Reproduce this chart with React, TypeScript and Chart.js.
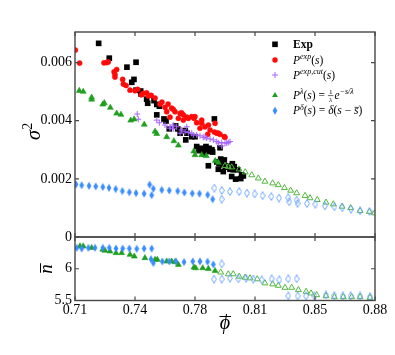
import React, { useEffect, useRef } from 'react';
import { Chart, registerables } from 'chart.js';
Chart.register(...registerables);

type P = [number, number];

// ---- axis ticks ----
const xTicks = [0.705, 0.74, 0.775, 0.81, 0.845, 0.88];
const xTickLabels = ['0.71', '0.74', '0.78', '0.81', '0.85', '0.88'];
const sigmaTicks = [0, 0.002, 0.004, 0.006];
const sigmaTickLabels = ['0', '0.002', '0.004', '0.006'];
const nTicks = [5.5, 6];
const nTickLabels = ['5.5', '6'];
const X_MIN = 0.705, X_MAX = 0.88;
const SIG_MIN = 0, SIG_MAX = 0.00705;
const N_MIN = 5.5, N_MAX = 6.5;

// ---- top panel: sigma^2 vs phi ----
const expPoints: P[] = [
  [0.7188, 0.00666], [0.7250, 0.00615], [0.7353, 0.00584], [0.7406, 0.00601], [0.7394, 0.00542], [0.7381, 0.00532],
  [0.7406, 0.00505], [0.7433, 0.00502], [0.7435, 0.00492], [0.7468, 0.00474], [0.7511, 0.00469], [0.7527, 0.00456],
  [0.7542, 0.00450], [0.7474, 0.00460], [0.7527, 0.00420], [0.7569, 0.00406], [0.7581, 0.00399], [0.7600, 0.00372],
  [0.7637, 0.00382], [0.7649, 0.00372], [0.7663, 0.00357], [0.7693, 0.00366], [0.7703, 0.00357], [0.7696, 0.00334],
  [0.7731, 0.00345], [0.7750, 0.00345], [0.7760, 0.00311], [0.7773, 0.00297], [0.7785, 0.00305], [0.7798, 0.00297],
  [0.7814, 0.00311], [0.7833, 0.00305], [0.7849, 0.00300], [0.7804, 0.00285], [0.7822, 0.00294], [0.7853, 0.00292],
  [0.7863, 0.00406], [0.7896, 0.00307], [0.7828, 0.00245], [0.7877, 0.00258], [0.7900, 0.00268], [0.7921, 0.00265],
  [0.7912, 0.00248], [0.7927, 0.00240], [0.7890, 0.00252], [0.7886, 0.00233], [0.7915, 0.00225], [0.7941, 0.00245],
  [0.7954, 0.00233], [0.7968, 0.00252], [0.7979, 0.00242], [0.7999, 0.00231], [0.7973, 0.00231], [0.7964, 0.00208],
  [0.7987, 0.00199], [0.8017, 0.00201], [0.8022, 0.00214], [0.8032, 0.00210],
];
const pExpPoints: P[] = [
  [0.7052, 0.00643], [0.7077, 0.00598], [0.7219, 0.00599], [0.7235, 0.00600], [0.7244, 0.00602], [0.7278, 0.00568],
  [0.7293, 0.00576], [0.7283, 0.00559], [0.7283, 0.00550], [0.7328, 0.00542], [0.7332, 0.00526], [0.7348, 0.00521],
  [0.7371, 0.00505], [0.7400, 0.00503], [0.7416, 0.00508], [0.7437, 0.00489], [0.7448, 0.00494], [0.7468, 0.00496],
  [0.7478, 0.00485], [0.7495, 0.00487], [0.7517, 0.00478], [0.7546, 0.00457], [0.7557, 0.00464], [0.7575, 0.00446],
  [0.7585, 0.00431], [0.7593, 0.00457], [0.7604, 0.00412], [0.7614, 0.00443], [0.7623, 0.00439], [0.7633, 0.00431],
  [0.7653, 0.00408], [0.7663, 0.00425], [0.7672, 0.00427], [0.7682, 0.00420], [0.7682, 0.00402], [0.7702, 0.00412],
  [0.7711, 0.00408], [0.7731, 0.00414], [0.7744, 0.00408], [0.7750, 0.00414], [0.7760, 0.00393], [0.7779, 0.00374],
  [0.7789, 0.00391], [0.7789, 0.00402], [0.7808, 0.00379], [0.7824, 0.00353], [0.7828, 0.00385], [0.7838, 0.00368],
  [0.7863, 0.00361], [0.7867, 0.00391], [0.7877, 0.00357], [0.7886, 0.00357], [0.7896, 0.00353], [0.7921, 0.00345],
  [0.7925, 0.00343],
];
const pExpCutPoints: P[] = [
  [0.7413, 0.00423], [0.7419, 0.00405], [0.7527, 0.00402], [0.7542, 0.00393], [0.7575, 0.00385], [0.7604, 0.00379],
  [0.7604, 0.00374], [0.7623, 0.00385], [0.7623, 0.00372], [0.7643, 0.00379], [0.7663, 0.00357], [0.7672, 0.00368],
  [0.7692, 0.00362], [0.7702, 0.00379], [0.7711, 0.00359], [0.7731, 0.00357], [0.7740, 0.00351], [0.7760, 0.00351],
  [0.7779, 0.00348], [0.7798, 0.00343], [0.7808, 0.00343], [0.7818, 0.00340], [0.7838, 0.00337], [0.7857, 0.00334],
  [0.7877, 0.00328], [0.7886, 0.00323], [0.7906, 0.00313], [0.7906, 0.00325], [0.7925, 0.00323], [0.7935, 0.00323],
  [0.7944, 0.00325], [0.7954, 0.00328],
];
const pLambdaFilled: P[] = [
  [0.7075, 0.00503], [0.7098, 0.00500], [0.7147, 0.00480], [0.7147, 0.00473], [0.7212, 0.00456], [0.7221, 0.00461],
  [0.7256, 0.00445], [0.7293, 0.00425], [0.7318, 0.00421], [0.7375, 0.00401], [0.7395, 0.00405], [0.7454, 0.00387],
  [0.7517, 0.00363], [0.7527, 0.00355], [0.7585, 0.00344], [0.7627, 0.00330], [0.7653, 0.00315], [0.7743, 0.00295],
  [0.7750, 0.00282], [0.7789, 0.00282], [0.7816, 0.00279], [0.7868, 0.00262], [0.7886, 0.00256],
];
const pLambdaHollow: P[] = [
  [0.7925, 0.00245], [0.7944, 0.00242], [0.7964, 0.00240], [0.8007, 0.00233], [0.8043, 0.00223], [0.8081, 0.00213],
  [0.8119, 0.00202], [0.8158, 0.00191], [0.8203, 0.00185], [0.8236, 0.00179], [0.8272, 0.00169], [0.8308, 0.00160],
  [0.8343, 0.00151], [0.8392, 0.00142], [0.8421, 0.00134], [0.8463, 0.00128], [0.8514, 0.00119], [0.8557, 0.00113],
  [0.8608, 0.00105], [0.8658, 0.00100], [0.8713, 0.00090], [0.8767, 0.00087], [0.8797, 0.00082],
];
const pDeltaFilled: P[] = [
  [0.7056, 0.00181], [0.7089, 0.00178], [0.7132, 0.00176], [0.7171, 0.00174], [0.7212, 0.00172], [0.7248, 0.00169],
  [0.7287, 0.00165], [0.7326, 0.00158], [0.7367, 0.00154], [0.7406, 0.00151], [0.7453, 0.00149], [0.7485, 0.00180],
  [0.7507, 0.00166], [0.7497, 0.00144], [0.7556, 0.00162], [0.7600, 0.00160], [0.7649, 0.00158], [0.7688, 0.00153],
  [0.7734, 0.00150], [0.7776, 0.00149], [0.7824, 0.00145], [0.7853, 0.00130],
];
const pDeltaHollow: P[] = [
  [0.7863, 0.00168], [0.7906, 0.00160], [0.7906, 0.00130], [0.7954, 0.00156], [0.8008, 0.00156], [0.8053, 0.00151],
  [0.8098, 0.00148], [0.8144, 0.00142], [0.8195, 0.00139], [0.8240, 0.00134], [0.8294, 0.00135], [0.8300, 0.00121],
  [0.8343, 0.00127], [0.8348, 0.00115], [0.8403, 0.00115], [0.8452, 0.00113], [0.8508, 0.00107], [0.8563, 0.00104],
  [0.8609, 0.00101], [0.8660, 0.00096], [0.8713, 0.00090], [0.8768, 0.00088],
];

// ---- bottom panel: n vs phi ----
const nDeltaFilled: P[] = [
  [0.7060, 6.329], [0.7089, 6.318], [0.7128, 6.329], [0.7167, 6.329], [0.7212, 6.329], [0.7250, 6.329],
  [0.7289, 6.318], [0.7328, 6.318], [0.7367, 6.318], [0.7410, 6.313], [0.7453, 6.318], [0.7497, 6.318],
  [0.7493, 6.151], [0.7507, 6.091], [0.7559, 6.116], [0.7600, 6.116], [0.7639, 6.116], [0.7686, 6.106],
  [0.7737, 6.116], [0.7779, 6.116], [0.7823, 6.111], [0.7857, 6.068],
];
const nDeltaHollow: P[] = [
  [0.7861, 5.837], [0.7906, 6.075], [0.7906, 5.837], [0.7954, 5.852], [0.8003, 5.841], [0.8048, 5.852],
  [0.8090, 5.837], [0.8139, 5.825], [0.8197, 5.841], [0.8242, 5.825], [0.8294, 5.841], [0.8343, 5.841],
  [0.8294, 5.571], [0.8349, 5.571], [0.8398, 5.571], [0.8446, 5.571], [0.8514, 5.587], [0.8563, 5.576],
  [0.8612, 5.571], [0.8658, 5.571], [0.8713, 5.571], [0.8771, 5.560],
];
const nLambdaFilled: P[] = [
  [0.7079, 6.354], [0.7098, 6.354], [0.7147, 6.329], [0.7212, 6.302], [0.7225, 6.286], [0.7254, 6.275],
  [0.7289, 6.249], [0.7322, 6.249], [0.7371, 6.222], [0.7396, 6.195], [0.7458, 6.170], [0.7517, 6.143],
  [0.7530, 6.143], [0.7585, 6.116], [0.7614, 6.116], [0.7633, 6.106], [0.7653, 6.064], [0.7744, 6.021],
  [0.7754, 6.011], [0.7795, 6.011], [0.7828, 6.000], [0.7867, 5.968],
];
const nLambdaHollow: P[] = [
  [0.7900, 5.944], [0.7944, 5.916], [0.7973, 5.916], [0.8008, 5.878], [0.8042, 5.862], [0.8071, 5.852],
  [0.8113, 5.837], [0.8158, 5.773], [0.8203, 5.757], [0.8236, 5.735], [0.8275, 5.703], [0.8314, 5.703],
  [0.8353, 5.667], [0.8398, 5.640], [0.8427, 5.614], [0.8460, 5.587], [0.8514, 5.571], [0.8563, 5.556],
  [0.8615, 5.556], [0.8664, 5.556], [0.8713, 5.556], [0.8771, 5.544],
];

// ---- styling ----
const W = 395, H = 355;
const PLOT_LEFT = 75, PLOT_RIGHT = 375, PLOT_TOP = 32, PLOT_MID = 237, PLOT_BOTTOM = 300.5;
const FONT = '"Liberation Serif", "DejaVu Serif", serif';
const C_BLACK = '#000000';
const C_RED = '#ff0a0a';
const C_PURPLE = '#a866ff';
const C_GREEN = '#1ea01e';
const C_GREEN_H = '#52b83e';
const C_BLUE = '#3a8cff';
const C_BLUE_H = '#6fa6ff';
const FRAME = '#474747';

const toXY = (pts: P[]) => pts.map(([x, y]) => ({ x, y }));

function makeDiamond(fill: boolean, color: string): HTMLCanvasElement {
  const c = document.createElement('canvas');
  c.width = 6; c.height = 9;
  const g = c.getContext('2d')!;
  g.beginPath();
  g.moveTo(3, 0.6); g.lineTo(5.4, 4.5); g.lineTo(3, 8.4); g.lineTo(0.6, 4.5); g.closePath();
  if (fill) { g.fillStyle = color; g.fill(); }
  else { g.strokeStyle = color; g.lineWidth = 1; g.stroke(); }
  return c;
}

function drawFrame(chart: any, yVals: number[]) {
  const { ctx, chartArea: a, scales } = chart;
  ctx.save();
  ctx.strokeStyle = FRAME;
  ctx.lineWidth = 1.2;
  ctx.beginPath();
  for (const v of xTicks) {
    const px = scales.x.getPixelForValue(v);
    ctx.moveTo(px, a.top); ctx.lineTo(px, a.top + 4);
    ctx.moveTo(px, a.bottom); ctx.lineTo(px, a.bottom - 4);
  }
  for (const v of yVals) {
    const py = scales.y.getPixelForValue(v);
    ctx.moveTo(a.left, py); ctx.lineTo(a.left + 4, py);
    ctx.moveTo(a.right, py); ctx.lineTo(a.right - 4, py);
  }
  ctx.stroke();
  ctx.lineWidth = 1.4;
  ctx.strokeRect(a.left, a.top, a.right - a.left, a.bottom - a.top);
  ctx.restore();
}

type Seg = { t?: string; i?: boolean; b?: boolean; sup?: boolean; over?: boolean; frac?: [string, string] };

function drawRich(ctx: CanvasRenderingContext2D, x: number, y: number, segs: Seg[], fs: number) {
  let cx = x;
  const base = y + fs * 0.33;
  ctx.fillStyle = '#000';
  ctx.textBaseline = 'alphabetic';
  for (const s of segs) {
    if (s.frac) {
      const sz = fs * 0.62;
      ctx.font = `${sz}px ${FONT}`;
      const w = Math.max(ctx.measureText(s.frac[0]).width, ctx.measureText(s.frac[1]).width) + 1;
      ctx.textAlign = 'center';
      ctx.fillText(s.frac[0], cx + w / 2 + 0.5, y - 1.2);
      ctx.font = `italic ${sz}px ${FONT}`;
      ctx.fillText(s.frac[1], cx + w / 2 + 0.5, y + sz * 0.95);
      ctx.textAlign = 'left';
      ctx.strokeStyle = '#000';
      ctx.lineWidth = 0.6;
      ctx.beginPath(); ctx.moveTo(cx, y + 0.3); ctx.lineTo(cx + w + 1, y + 0.3); ctx.stroke();
      cx += w + 2;
      continue;
    }
    const sz = s.sup ? fs * 0.7 : fs;
    const by = s.sup ? base - fs * 0.42 : base;
    ctx.font = `${s.i ? 'italic ' : ''}${s.b ? 'bold ' : ''}${sz}px ${FONT}`;
    ctx.textAlign = 'left';
    ctx.fillText(s.t!, cx, by);
    const w = ctx.measureText(s.t!).width;
    if (s.over) {
      ctx.strokeStyle = '#000'; ctx.lineWidth = 0.7;
      ctx.beginPath(); ctx.moveTo(cx + 0.5, by - sz * 0.62); ctx.lineTo(cx + w + 0.5, by - sz * 0.62); ctx.stroke();
    }
    cx += w;
  }
}

const legendRows: { kind: string; y: number; segs: Seg[] }[] = [
  { kind: 'square', y: 44.3, segs: [{ t: 'Exp', b: true }] },
  { kind: 'circle', y: 60, segs: [{ t: 'P', i: true }, { t: 'exp', i: true, sup: true }, { t: '(' }, { t: 's', i: true }, { t: ')' }] },
  { kind: 'cross', y: 75, segs: [{ t: 'P', i: true }, { t: 'exp,cut', i: true, sup: true }, { t: '(' }, { t: 's', i: true }, { t: ')' }] },
  { kind: 'tri', y: 95.3, segs: [{ t: 'P', i: true }, { t: 'λ', i: true, sup: true }, { t: '(' }, { t: 's', i: true }, { t: ') = ' }, { frac: ['1', 'λ'] }, { t: 'e', i: true }, { t: '−s/λ', i: true, sup: true }] },
  { kind: 'diamond', y: 110.7, segs: [{ t: 'P', i: true }, { t: 'δ', i: true, sup: true }, { t: '(' }, { t: 's', i: true }, { t: ') = ' }, { t: 'δ', i: true }, { t: '(' }, { t: 's', i: true }, { t: ' − ' }, { t: 's', i: true, over: true }, { t: ')' }] },
];

function drawMarker(ctx: CanvasRenderingContext2D, kind: string, x: number, y: number, diamond: HTMLCanvasElement) {
  ctx.save();
  if (kind === 'square') { ctx.fillStyle = C_BLACK; ctx.fillRect(x - 2.8, y - 2.8, 5.6, 5.6); }
  if (kind === 'circle') { ctx.fillStyle = C_RED; ctx.beginPath(); ctx.arc(x, y, 2.7, 0, Math.PI * 2); ctx.fill(); }
  if (kind === 'cross') {
    ctx.strokeStyle = C_PURPLE; ctx.lineWidth = 1; ctx.beginPath();
    ctx.moveTo(x - 3, y); ctx.lineTo(x + 3, y); ctx.moveTo(x, y - 3); ctx.lineTo(x, y + 3); ctx.stroke();
  }
  if (kind === 'tri') {
    ctx.fillStyle = C_GREEN; ctx.beginPath();
    ctx.moveTo(x, y - 3.4); ctx.lineTo(x + 2.95, y + 1.7); ctx.lineTo(x - 2.95, y + 1.7); ctx.closePath(); ctx.fill();
  }
  if (kind === 'diamond') { ctx.drawImage(diamond, x - diamond.width / 2, y - diamond.height / 2); }
  ctx.restore();
}

export default function App() {
  const topRef = useRef<HTMLCanvasElement>(null);
  const botRef = useRef<HTMLCanvasElement>(null);

  useEffect(() => {
    const dFill = makeDiamond(true, C_BLUE);
    const dHollow = makeDiamond(false, C_BLUE_H);

    const tickFont = { family: FONT, size: 14 };

    const topPlugin = {
      id: 'topDecor',
      afterDraw(chart: any) {
        drawFrame(chart, sigmaTicks);
        const ctx: CanvasRenderingContext2D = chart.ctx;
        for (const r of legendRows) {
          drawMarker(ctx, r.kind, 275, r.y, dFill);
          drawRich(ctx, 293, r.y, r.segs, 11.5);
        }
        ctx.save();
        ctx.translate(40, 131);
        ctx.rotate(-Math.PI / 2);
        ctx.fillStyle = '#000';
        ctx.textBaseline = 'alphabetic';
        ctx.textAlign = 'left';
        ctx.font = `italic 20px ${FONT}`;
        const sw = ctx.measureText('σ').width;
        ctx.fillText('σ', -9, 0);
        ctx.font = `14px ${FONT}`;
        ctx.fillText('2', -9 + sw + 0.5, -8);
        ctx.restore();
      },
    };

    const botPlugin = {
      id: 'botDecor',
      afterDraw(chart: any) {
        drawFrame(chart, nTicks);
        const ctx: CanvasRenderingContext2D = chart.ctx;
        ctx.save();
        ctx.fillStyle = '#000';
        ctx.strokeStyle = '#000';
        ctx.save();
        ctx.translate(52, 269);
        ctx.rotate(-Math.PI / 2);
        ctx.font = `italic 19px ${FONT}`;
        ctx.textAlign = 'center';
        ctx.textBaseline = 'alphabetic';
        ctx.fillText('n', 0, 0);
        const nw = ctx.measureText('n').width;
        ctx.lineWidth = 1;
        ctx.beginPath(); ctx.moveTo(-nw / 2 + 1, -11.5); ctx.lineTo(nw / 2 + 1, -11.5); ctx.stroke();
        ctx.restore();
        ctx.font = `italic 20px ${FONT}`;
        ctx.textAlign = 'center';
        ctx.textBaseline = 'alphabetic';
        ctx.fillText('ϕ', 225, 328.5);
        ctx.lineWidth = 1;
        ctx.beginPath(); ctx.moveTo(219.5, 316.5); ctx.lineTo(231, 316.5); ctx.stroke();
        ctx.restore();
      },
    };

    const commonPlugins = { legend: { display: false }, tooltip: { enabled: false } };

    const top = new Chart(topRef.current!, {
      type: 'scatter',
      data: {
        datasets: [
          { data: toXY(pDeltaFilled), pointStyle: dFill, radius: 4 },
          { data: toXY(pDeltaHollow), pointStyle: dHollow, radius: 4 },
          { data: toXY(pLambdaFilled), pointStyle: 'triangle', radius: 3.4, backgroundColor: C_GREEN, borderColor: C_GREEN, borderWidth: 0.6 },
          { data: toXY(pLambdaHollow), pointStyle: 'triangle', radius: 3.4, backgroundColor: 'rgba(0,0,0,0)', borderColor: C_GREEN_H, borderWidth: 1 },
          { data: toXY(pExpCutPoints), pointStyle: 'cross', radius: 3, borderColor: C_PURPLE, borderWidth: 1 },
          { data: toXY(pExpPoints), pointStyle: 'circle', radius: 2.6, backgroundColor: C_RED, borderColor: C_RED, borderWidth: 0.4 },
          { data: toXY(expPoints), pointStyle: 'rect', radius: 4, backgroundColor: C_BLACK, borderColor: C_BLACK, borderWidth: 0 },
        ] as any,
      },
      options: {
        responsive: false,
        animation: false,
        events: [],
        layout: { padding: { left: 0, right: W - PLOT_RIGHT, top: PLOT_TOP, bottom: H - PLOT_MID } },
        plugins: commonPlugins as any,
        scales: {
          x: { type: 'linear', min: X_MIN, max: X_MAX, display: false },
          y: {
            type: 'linear', min: SIG_MIN, max: SIG_MAX,
            grid: { display: false, drawTicks: false },
            border: { display: false },
            afterBuildTicks: (s: any) => { s.ticks = sigmaTicks.map((v) => ({ value: v })); },
            afterFit: (s: any) => { s.width = PLOT_LEFT; },
            ticks: { padding: 3, color: '#000', font: tickFont, callback: (_v: any, i: number) => sigmaTickLabels[i] },
          },
        },
      },
      plugins: [topPlugin],
    });

    const bot = new Chart(botRef.current!, {
      type: 'scatter',
      data: {
        datasets: [
          { data: toXY(nDeltaFilled), pointStyle: dFill, radius: 4 },
          { data: toXY(nDeltaHollow), pointStyle: dHollow, radius: 4 },
          { data: toXY(nLambdaFilled), pointStyle: 'triangle', radius: 3.4, backgroundColor: C_GREEN, borderColor: C_GREEN, borderWidth: 0.6 },
          { data: toXY(nLambdaHollow), pointStyle: 'triangle', radius: 3.4, backgroundColor: 'rgba(0,0,0,0)', borderColor: C_GREEN_H, borderWidth: 1 },
        ] as any,
      },
      options: {
        responsive: false,
        animation: false,
        events: [],
        layout: { padding: { left: 0, right: W - PLOT_RIGHT, top: PLOT_MID, bottom: 0 } },
        plugins: commonPlugins as any,
        scales: {
          x: {
            type: 'linear', min: X_MIN, max: X_MAX,
            grid: { display: false, drawTicks: false },
            border: { display: false },
            afterBuildTicks: (s: any) => { s.ticks = xTicks.map((v) => ({ value: v })); },
            afterFit: (s: any) => { s.height = H - PLOT_BOTTOM; },
            ticks: { padding: 1, color: '#000', font: tickFont, maxRotation: 0, autoSkip: false, callback: (_v: any, i: number) => xTickLabels[i] },
          },
          y: {
            type: 'linear', min: N_MIN, max: N_MAX,
            grid: { display: false, drawTicks: false },
            border: { display: false },
            afterBuildTicks: (s: any) => { s.ticks = nTicks.map((v) => ({ value: v })); },
            afterFit: (s: any) => { s.width = PLOT_LEFT; },
            ticks: { padding: 3, color: '#000', font: tickFont, callback: (_v: any, i: number) => nTickLabels[i] },
          },
        },
      },
      plugins: [botPlugin],
    });

    return () => { top.destroy(); bot.destroy(); };
  }, []);

  return (
    <div style={{ position: 'fixed', left: 0, top: 0, width: W, height: H, background: '#fff' }}>
      <canvas ref={topRef} width={W} height={H} style={{ position: 'absolute', left: 0, top: 0 }} />
      <canvas ref={botRef} width={W} height={H} style={{ position: 'absolute', left: 0, top: 0 }} />
    </div>
  );
}
